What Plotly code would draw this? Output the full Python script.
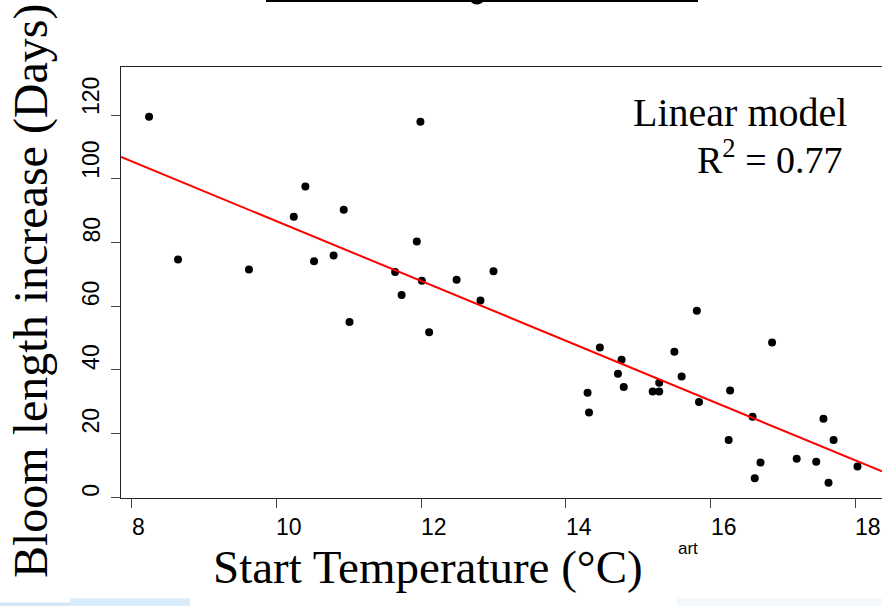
import plotly.graph_objects as go

# ---- data ----
start_temp = [8.24, 8.64, 9.62, 10.24, 10.40, 10.52, 10.79, 10.93,
              11.99, 11.94, 11.64, 12.01, 12.49, 13.00, 11.73, 12.82,
              11.01, 12.11,
              14.47, 14.77, 14.72, 14.80, 14.30, 14.32, 15.20, 15.29,
              15.29, 15.50, 15.60, 15.81, 15.84, 16.27, 16.25, 16.58,
              16.85, 16.61, 16.69, 17.19, 17.46, 17.56, 17.70, 17.63, 18.03]
bloom_increase = [119.5, 74.7, 71.5, 88.1, 97.6, 74.1, 75.9, 90.3,
                  117.9, 80.3, 70.7, 68.0, 68.3, 71.0, 63.5, 61.8,
                  55.0, 51.8,
                  47.0, 43.2, 38.8, 34.6, 32.8, 26.6, 33.2, 33.2,
                  36.0, 45.7, 37.9, 58.6, 29.9, 33.5, 18.0, 25.3,
                  48.6, 6.0, 10.9, 12.1, 11.2, 24.7, 18.0, 4.6, 9.7]
model_coef = [180.6, -9.39]          # intercept, slope of the linear model
x_ticks = [8, 10, 12, 14, 16, 18]
y_ticks = [0, 20, 40, 60, 80, 100, 120]
x_range = [7.852, 18.369]
y_range = [-0.22, 135.1]
x_title = "Start Temperature (°C)"
y_title = "Bloom length increase (Days)"
model_lines = ["Linear model", "R<sup>2</sup> = 0.77"]

# ---- layout geometry (pixels) ----
W, H = 882, 606
PL, PR, PT, PB = 121, 882, 67, 498


def fx(px):
    return (px - PL) / (PR - PL)


def fy(py):
    return (PB - py) / (PB - PT)


fig = go.Figure()
fig.add_trace(go.Scatter(
    x=start_temp, y=bloom_increase, mode="markers",
    marker=dict(color="black", size=8, line=dict(width=0)),
    showlegend=False, hoverinfo="skip"))

line_x = x_range
line_y = [model_coef[0] + model_coef[1] * v for v in line_x]
fig.add_trace(go.Scatter(
    x=line_x, y=line_y, mode="lines",
    line=dict(color="#ff0000", width=2),
    showlegend=False, hoverinfo="skip"))

serif = "Liberation Serif, Times New Roman, serif"
sans = "Liberation Sans, Arial, sans-serif"

ann = []
for t in x_ticks:
    ann.append(dict(x=t, xref="x", xanchor="left", y=fy(527), yref="paper",
                    yanchor="middle", text=str(t), showarrow=False,
                    font=dict(family=sans, size=23, color="black"),
                    xshift=-2))
for t in y_ticks:
    ann.append(dict(x=fx(91), xref="paper", xanchor="center", y=t, yref="y",
                    yanchor="bottom", text=str(t), showarrow=False,
                    textangle=-90,
                    font=dict(family=sans, size=23, color="black"),
                    yshift=-2))
ann.append(dict(x=fx(211), xref="paper", xanchor="left", y=fy(566.5),
                yref="paper", yanchor="middle", text=x_title, showarrow=False,
                font=dict(family=serif, size=47, color="black")))
ann.append(dict(x=fx(31), xref="paper", xanchor="center", y=fy(291),
                yref="paper", yanchor="middle", text=y_title, showarrow=False,
                textangle=-90,
                font=dict(family=serif, size=48, color="black")))
ann.append(dict(x=fx(849), xref="paper", xanchor="right", y=fy(137),
                yref="paper", yanchor="bottom", text=model_lines[0],
                showarrow=False, font=dict(family=serif, size=40, color="black")))
ann.append(dict(x=fx(845), xref="paper", xanchor="right", y=fy(183),
                yref="paper", yanchor="bottom", text=model_lines[1],
                showarrow=False, font=dict(family=serif, size=38, color="black")))
ann.append(dict(x=fx(676), xref="paper", xanchor="left", y=fy(548),
                yref="paper", yanchor="middle", text="art", showarrow=False,
                font=dict(family=sans, size=17, color="black")))

shapes = [
    # remnants of slide background at the bottom
    dict(type="rect", xref="paper", yref="paper", x0=fx(0), x1=fx(70),
         y0=fy(606), y1=fy(602.5), fillcolor="#d2e7f7", line=dict(width=0),
         layer="below"),
    dict(type="rect", xref="paper", yref="paper", x0=fx(70), x1=fx(190),
         y0=fy(606), y1=fy(598.3), fillcolor="#d8ecfb", line=dict(width=0),
         layer="below"),
    dict(type="rect", xref="paper", yref="paper", x0=fx(677), x1=fx(882),
         y0=fy(606), y1=fy(598), fillcolor="#f3f8fd", line=dict(width=0),
         layer="below"),
    # underline of a cut-off heading at the top
    dict(type="line", xref="paper", yref="paper", x0=fx(266), x1=fx(698),
         y0=fy(1), y1=fy(1), line=dict(color="black", width=2)),
    dict(type="path", xref="paper", yref="paper",
         path="M {} {} Q {} {} {} {} Z".format(fx(469), fy(0), fx(477), fy(9),
                                               fx(485), fy(0)),
         fillcolor="black", line=dict(width=0)),
]

fig.update_layout(
    width=W, height=H,
    margin=dict(l=PL, r=W - PR, t=PT, b=H - PB, pad=0),
    paper_bgcolor="white", plot_bgcolor="white",
    annotations=ann, shapes=shapes,
    xaxis=dict(range=x_range, tickvals=x_ticks, showticklabels=False,
               ticks="outside", ticklen=9, tickwidth=1, tickcolor="#444",
               showline=True, linecolor="#222", linewidth=1.2, mirror=True,
               showgrid=False, zeroline=False, fixedrange=True),
    yaxis=dict(range=y_range, tickvals=y_ticks, showticklabels=False,
               ticks="outside", ticklen=9, tickwidth=1, tickcolor="#444",
               showline=True, linecolor="#222", linewidth=1.2, mirror=False,
               showgrid=False, zeroline=False, fixedrange=True),
)

fig.write_html(
    "out.html",
    config={"displayModeBar": False},
    post_script="document.body.style.margin='0px';"
                "document.body.style.overflow='hidden';",
)
